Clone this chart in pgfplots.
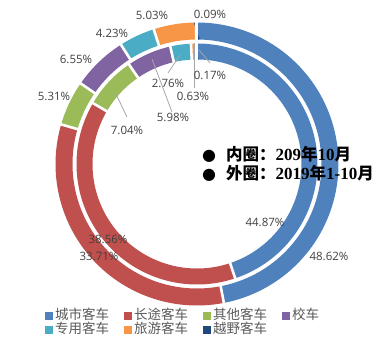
\documentclass[border=0pt]{standalone}
\usepackage{fontspec}
\usepackage{pgfplots}
\usepackage{pgfplotstable}
\pgfplotsset{compat=1.18}
\newfontfamily\cjk{Noto Sans CJK SC}
\newfontfamily\lab{Open Sans}
\newfontfamily\ser{Liberation Serif}
\newfontfamily\sym{DejaVu Sans}
\definecolor{cA}{HTML}{4F81BD}
\definecolor{cB}{HTML}{C0504D}
\definecolor{cC}{HTML}{9BBB59}
\definecolor{cD}{HTML}{8064A2}
\definecolor{cE}{HTML}{4BACC6}
\definecolor{cF}{HTML}{F79646}
\definecolor{cG}{HTML}{1F497D}
\definecolor{labc}{HTML}{404040}
\definecolor{legc}{HTML}{595959}
\definecolor{leadc}{HTML}{A6A6A6}

% shares (%): inner ring = 2019-10, outer ring = 2019-01..10
\pgfplotstableread{
col inner outer
cA 44.87 48.62
cB 38.56 33.71
cC 7.04 5.31
cD 5.98 6.55
cE 2.76 4.23
cF 0.63 5.03
cG 0.17 0.09
}\shares

\def\cx{197}\def\cy{182}

\newcommand\colsum[2]{%
  \gdef#2{0}%
  \pgfplotstableforeachcolumnelement{#1}\of\shares\as\cellv{%
    \pgfmathparse{#2+\cellv}\xdef#2{\pgfmathresult}}%
}

% #1 column, #2 total, #3 mid radius, #4 band width
\newcommand\ring[4]{%
  \gdef\cum{0}%
  \pgfplotsforeachungrouped \i in {0,...,6}{%
    \pgfplotstablegetelem{\i}{#1}\of\shares
    \let\va\pgfplotsretval
    \pgfmathsetmacro\aS{90-(\cum/#2)*360}%
    \pgfmathsetmacro\aE{90-((\cum+\va)/#2)*360}%
    \pgfplotstablegetelem{\i}{col}\of\shares
    \edef\temp{\noexpand\addplot[forget plot, no markers, line width=#4bp, color=\pgfplotsretval, domain=\aE:\aS, samples=90] ({\cx+#3*cos(x)},{\cy+#3*sin(x)});}%
    \temp
    \pgfmathparse{\cum+\va}\xdef\cum{\pgfmathresult}%
  }%
  \gdef\cum{0}%
  \pgfplotsforeachungrouped \i in {0,...,6}{%
    \pgfplotstablegetelem{\i}{#1}\of\shares
    \let\va\pgfplotsretval
    \pgfmathsetmacro\aS{90-(\cum/#2)*360}%
    \pgfmathsetmacro\xa{\cx+(#3-#4/2-1)*cos(\aS)}%
    \pgfmathsetmacro\ya{\cy+(#3-#4/2-1)*sin(\aS)}%
    \pgfmathsetmacro\xb{\cx+(#3+#4/2+1)*cos(\aS)}%
    \pgfmathsetmacro\yb{\cy+(#3+#4/2+1)*sin(\aS)}%
    \edef\temp{\noexpand\addplot[forget plot, no markers, white, line width=2.6bp] coordinates {(\xa,\ya) (\xb,\yb)};}%
    \temp
    \pgfmathparse{\cum+\va}\xdef\cum{\pgfmathresult}%
  }%
}

\newcommand\cjkb[1]{{\cjk\bfseries\fontsize{16.5bp}{17bp}\selectfont #1}}
\newcommand\serb[1]{{\ser\bfseries\fontsize{17bp}{17bp}\selectfont #1}}

\begin{document}
\begin{tikzpicture}
\colsum{inner}\totin
\colsum{outer}\totout
\begin{axis}[
  x=1bp, y=1bp, xmin=0, xmax=388, ymin=0, ymax=346,
  hide axis, clip=false,
  legend image code/.code={\fill[#1] (0bp,-3.3bp) rectangle (6.6bp,3.3bp);},
  legend columns=4,
  legend cell align=left,
  legend style={at={(axis cs:45,37)}, anchor=north west, draw=none, fill=none,
    inner sep=0pt, row sep=1.5bp,
    font=\cjk\fontsize{13.5bp}{14bp}\selectfont, text=legc,
    nodes={inner sep=0pt, text height=10.5bp, text depth=2bp},
    /tikz/every odd column/.append style={column sep=3bp},
    /tikz/every even column/.append style={column sep=15bp}},
]
\path (axis cs:0,0) rectangle (axis cs:388,346);
\ring{outer}{\totout}{133}{17}
\ring{inner}{\totin}{112.5}{16}

\addlegendimage{cA}\addlegendentry{城市客车}
\addlegendimage{cB}\addlegendentry{长途客车}
\addlegendimage{cC}\addlegendentry{其他客车}
\addlegendimage{cD}\addlegendentry{校车}
\addlegendimage{cE}\addlegendentry{专用客车}
\addlegendimage{cF}\addlegendentry{旅游客车}
\addlegendimage{cG}\addlegendentry{越野客车}

% leader lines
\draw[leadc, line width=0.8bp] (axis cs:116,252) -- (axis cs:127,229);
\draw[leadc, line width=0.8bp] (axis cs:152,287) -- (axis cs:172,234);
\draw[leadc, line width=0.8bp] (axis cs:180,291) -- (axis cs:168,273);
\draw[leadc, line width=0.8bp] (axis cs:194,303) -- (axis cs:194,258);
\draw[leadc, line width=0.8bp] (axis cs:199,296) -- (axis cs:210,283);

% data labels
\tikzset{dl/.style={font=\lab\fontsize{11.5bp}{12bp}\selectfont, text=labc, inner sep=0pt}}
\node[dl] at (axis cs:210,332) {0.09\%};
\node[dl] at (axis cs:152,331) {5.03\%};
\node[dl] at (axis cs:112,313) {4.23\%};
\node[dl] at (axis cs:76,287) {6.55\%};
\node[dl] at (axis cs:54,250) {5.31\%};
\node[dl] at (axis cs:127,216) {7.04\%};
\node[dl] at (axis cs:173,229) {5.98\%};
\node[dl] at (axis cs:168,263) {2.76\%};
\node[dl] at (axis cs:193,250) {0.63\%};
\node[dl] at (axis cs:210,271) {0.17\%};
\node[dl] at (axis cs:265,124) {44.87\%};
\node[dl] at (axis cs:329,90) {48.62\%};
\node[dl] at (axis cs:108,107) {38.56\%};
\node[dl] at (axis cs:99,90) {33.71\%};

% centre notes
\node[anchor=west, inner sep=0pt] at (axis cs:202,192)
  {{\sym\fontsize{16bp}{16bp}\selectfont ●}\hspace{10bp}\cjkb{内圈：}\serb{209}\cjkb{年}\serb{10}\cjkb{月}};
\node[anchor=west, inner sep=0pt] at (axis cs:202,173)
  {{\sym\fontsize{16bp}{16bp}\selectfont ●}\hspace{10bp}\cjkb{外圈：}\serb{2019}\cjkb{年}\serb{1-10}\cjkb{月}};
\end{axis}
\end{tikzpicture}
\end{document}
